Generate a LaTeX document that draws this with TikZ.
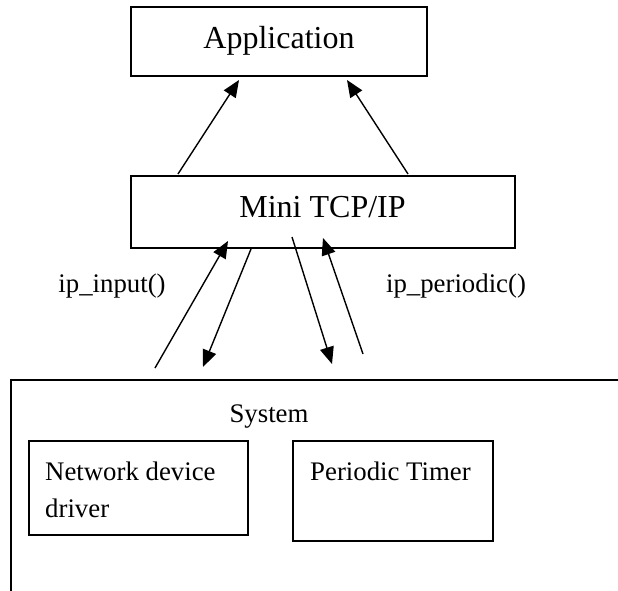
\documentclass[tikz,border=0pt]{standalone}
\usepackage{fontspec}
\setmainfont{Liberation Serif}
\usetikzlibrary{arrows.meta}
\begin{document}
\begin{tikzpicture}[x=1pt,y=-1pt,
  boxshape/.style={draw, line width=1.8pt, rectangle, inner sep=0pt},
  bigtext/.style={font=\fontsize{32}{38}\selectfont, inner sep=0pt, anchor=base},
  smalltext/.style={font=\fontsize{26.8}{37}\selectfont, inner sep=0pt},
  flow/.style={line width=1.4pt, -{Triangle[length=17pt,width=14pt]}}]
\useasboundingbox (0,0) rectangle (618,591);
% boxes
\node[boxshape, minimum width=296pt, minimum height=69pt] (app) at (279,41.5) {};
\node[bigtext] (apptxt) at (279,49) {Application};
\node[boxshape, minimum width=384pt, minimum height=72pt] (tcp) at (323,212) {};
\node[bigtext] (tcptxt) at (322.5,217) {Mini TCP/IP};
% system frame
\coordinate (sysbl) at (11,591);
\coordinate (systl) at (11,380);
\coordinate (systr) at (618,380);
\draw[line width=2pt] (sysbl) -- (systl) -- (systr);
\node[smalltext, anchor=base] (systxt) at (269,422) {System};
\node[boxshape, minimum width=219pt, minimum height=94pt] (ndd) at (138.5,488) {};
\node[smalltext, anchor=base west, align=left] (nddtxt) at (45,517) {Network device\\driver};
\node[boxshape, minimum width=200pt, minimum height=100pt] (ptm) at (393,491) {};
\node[smalltext, anchor=base west] (ptmtxt) at (310,480) {Periodic Timer};
% arrows to application
\coordinate (a1s) at (178,174);
\coordinate (a1e) at (239,80);
\coordinate (a2s) at (408,174);
\coordinate (a2e) at (347,80);
\draw[flow] (a1s) -- (a1e);
\draw[flow] (a2s) -- (a2e);
% arrows between tcp and system
\coordinate (b1s) at (155,368);
\coordinate (b1e) at (228,241);
\coordinate (b2s) at (251,249);
\coordinate (b2e) at (203,367);
\coordinate (b3s) at (292,237);
\coordinate (b3e) at (332,364);
\coordinate (b4s) at (363,354);
\coordinate (b4e) at (323,238);
\draw[flow] (b1s) -- (b1e);
\draw[flow] (b2s) -- (b2e);
\draw[flow] (b3s) -- (b3e);
\draw[flow] (b4s) -- (b4e);
% labels
\node[smalltext, anchor=base] (lin) at (112,292) {ip\_input()};
\node[smalltext, anchor=base] (lper) at (456,292) {ip\_periodic()};
\end{tikzpicture}
\end{document}
